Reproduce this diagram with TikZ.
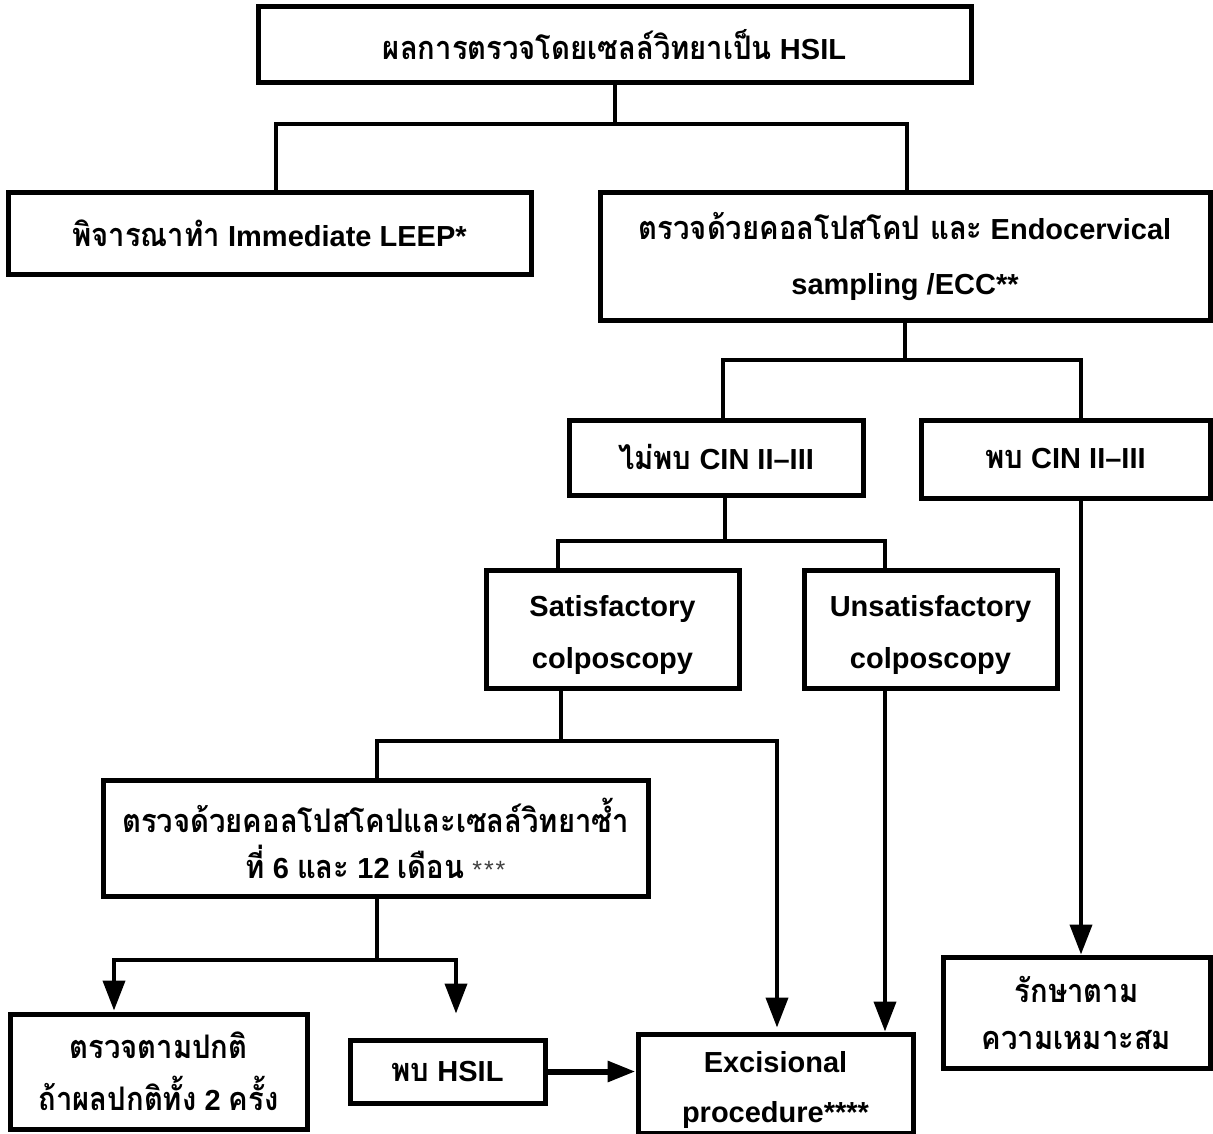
\documentclass[tikz,border=0pt]{standalone}
\usepackage{fontspec}
\setmainfont{Liberation Sans}
\newfontfamily\thai[Script=Thai, Scale=1.12, FakeStretch=0.9]{Loma}
\usetikzlibrary{arrows.meta}
\newcommand{\tx}[1]{{\thai #1}}
\begin{document}
\begin{tikzpicture}[x=1pt,y=-1pt,
  box/.style={draw, line width=5pt, align=center, inner sep=0pt,
    font=\bfseries\fontsize{29}{52}\selectfont},
  conn/.style={line width=4pt, line join=miter},
  arr/.style={conn, -{Triangle[length=30pt,width=22pt]}},
  darr/.style={conn, {Triangle[length=30pt,width=22pt]}-{Triangle[length=30pt,width=22pt]}},
  harr/.style={line width=6pt, -{Triangle[length=28pt,width=20pt]}}]
\useasboundingbox (0,0) rectangle (1213,1134);

% boxes
\node[box, minimum width=713pt, minimum height=76pt] (top) at (614.5,45) {\tx{ผลการตรวจโดยเซลล์วิทยาเป็น} HSIL};
\node[box, minimum width=523pt, minimum height=81pt] (leep) at (269.5,233.5) {\tx{พิจารณาทำ} Immediate LEEP*};
\node[box, minimum width=610pt, minimum height=127pt, font=\bfseries\fontsize{29}{55}\selectfont] (colpo) at (905,256.5) {\tx{ตรวจด้วยคอลโปสโคป และ} Endocervical\\sampling /ECC**};
\node[box, minimum width=294pt, minimum height=75pt] (nocin) at (716,457.5) {\tx{ไม่พบ} CIN II–III};
\node[box, minimum width=289pt, minimum height=78pt] (cin) at (1065.5,459) {\tx{พบ} CIN II–III};
\node[box, minimum width=253pt, minimum height=118pt] (sat) at (612.5,629) {\rule{0pt}{34pt}Satisfactory\\colposcopy};
\node[box, minimum width=253pt, minimum height=118pt] (unsat) at (930.5,629) {\rule{0pt}{34pt}Unsatisfactory\\colposcopy};
\node[box, minimum width=545pt, minimum height=116pt, font=\bfseries\fontsize{29}{46}\selectfont] (rep) at (375.5,838)
  {\tx{ตรวจด้วยคอลโปสโคปและเซลล์วิทยาซ้ำ}\\\tx{ที่} 6 \tx{และ} 12 \tx{เดือน}\hspace{8pt}{\mdseries\color{black!75}\fontsize{25}{25}\selectfont *\hspace{2pt}*\hspace{2pt}*}};
\node[box, minimum width=297pt, minimum height=115pt] (normal) at (158.5,1071.5) {\tx{ตรวจตามปกติ}\\\tx{ถ้าผลปกติทั้ง} 2 \tx{ครั้ง}};
\node[box, minimum width=195pt, minimum height=63pt] (hsil) at (447.5,1071.5) {\tx{พบ} HSIL};
\node[box, minimum width=275pt, minimum height=99pt, font=\bfseries\fontsize{29}{50}\selectfont] (exc) at (775.5,1083.5) {\rule{0pt}{34pt}Excisional\\procedure****};
\node[box, minimum width=267pt, minimum height=111pt, font=\bfseries\fontsize{29}{47}\selectfont] (treat) at (1076.5,1012.5) {\tx{รักษาตาม}\\\tx{ความเหมาะสม}};

% first split
\draw[conn] (top.south) -- ++(0,39) coordinate (j1);
\draw[conn] ([xshift=6.5pt]leep.north) |- (j1) -| ([xshift=2pt]colpo.north);

% colposcopy result split
\draw[conn] (colpo.south) -- ++(0,37) coordinate (j2);
\draw[conn] ([xshift=7pt]nocin.north) |- (j2) -| ([xshift=15.5pt]cin.north);

% satisfactory / unsatisfactory split
\draw[conn] ([xshift=9pt]nocin.south) -- ++(0,43) coordinate (j3);
\draw[conn] ([xshift=-54.5pt]sat.north) |- (j3) -| ([xshift=-45.5pt]unsat.north);

% follow-up after satisfactory colposcopy
\draw[conn] ([xshift=-51.5pt]sat.south) -- ++(0,50) coordinate (j4);
\draw[conn] ([xshift=1.5pt]rep.north) |- (j4);
\draw[arr] (j4) -| ([xshift=1.5pt,yshift=4pt]exc.north);
\draw[arr] ([xshift=-45.5pt]unsat.south) -- ([xshift=109.5pt]exc.north);
\draw[arr] ([xshift=15.5pt]cin.south) -- ([xshift=4.5pt]treat.north);

% outcomes of repeat testing
\draw[conn] ([xshift=1.5pt]rep.south) -- ++(0,61) coordinate (j5);
\coordinate (h1) at ([xshift=8.5pt,yshift=24pt]hsil.north);
\draw[darr] ([xshift=-44.5pt,yshift=1pt]normal.north) |- (j5) -| (h1);
\draw[harr] (hsil.east) -- (hsil.east -| exc.west);
\end{tikzpicture}
\end{document}
